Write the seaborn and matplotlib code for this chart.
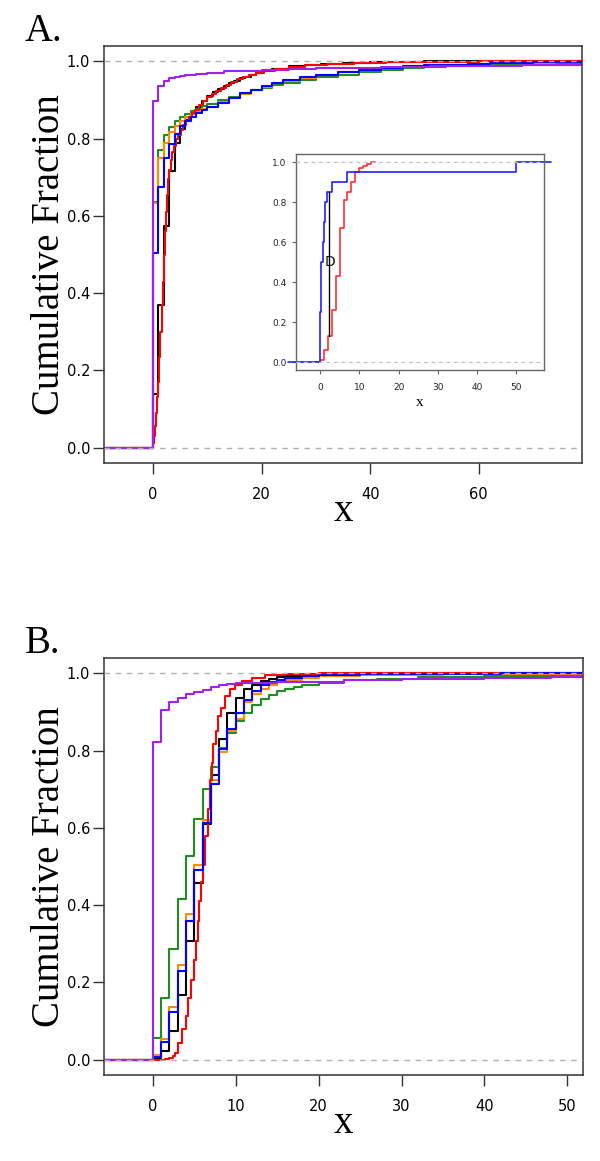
import numpy as np
import pandas as pd
import seaborn as sns
import matplotlib.pyplot as plt

# ---- Panel A: step positions and cumulative fraction after each step ----
a_black_x = [0, 1, 2, 3, 4, 5, 6, 7, 8, 9, 10, 11, 12, 13, 14, 15, 16, 17, 18, 19, 20, 22, 25, 28, 31, 35, 40, 45, 50]
a_black_y = [0.14, 0.37, 0.575, 0.715, 0.79, 0.824, 0.848, 0.867, 0.883, 0.898, 0.91, 0.92, 0.929, 0.937,
             0.944, 0.95, 0.956, 0.961, 0.966, 0.971, 0.975, 0.981, 0.987, 0.991, 0.993, 0.996, 0.998, 0.999, 1.0]

a_red_x = [0, 0.2, 0.4, 0.6, 0.8, 1.0, 1.2, 1.4, 1.6, 1.8, 2.0, 2.2, 2.4, 2.6, 2.8, 3.0, 3.3, 3.6, 3.9, 4.3,
           4.7, 5.1, 5.6, 6.1, 6.6, 7.2, 7.8, 8.5, 9.3, 10.0, 10.8, 11.6, 12.5, 13.4, 14.4, 15.4, 16.5, 17.7,
           19.0, 20.5, 22.5, 25, 28, 32, 37, 43, 50, 60]
a_red_y = [0.011, 0.03, 0.055, 0.09, 0.13, 0.17, 0.235, 0.3, 0.37, 0.43, 0.5, 0.56, 0.61, 0.655, 0.695, 0.72,
           0.745, 0.765, 0.782, 0.798, 0.81, 0.822, 0.835, 0.846, 0.856, 0.866, 0.875, 0.886, 0.898, 0.907,
           0.916, 0.924, 0.932, 0.94, 0.947, 0.954, 0.96, 0.966, 0.971, 0.976, 0.981, 0.986, 0.99, 0.993,
           0.996, 0.998, 0.999, 1.0]

a_blue_x = [0, 1, 2, 3, 4, 5, 6, 7, 8, 9, 10, 12, 14, 16, 18, 20, 22, 24, 27, 30, 34, 38, 42, 46, 50, 54,
            58, 62, 66, 70, 74]
a_blue_y = [0.503, 0.676, 0.749, 0.786, 0.813, 0.833, 0.846, 0.857, 0.866, 0.874, 0.881, 0.893, 0.905, 0.917,
            0.927, 0.936, 0.944, 0.951, 0.96, 0.966, 0.973, 0.979, 0.983, 0.987, 0.99, 0.992, 0.994, 0.995,
            0.997, 0.998, 0.999]

a_orange_x = [0, 1, 2, 3, 4, 5, 6, 7, 8, 9, 10, 12, 14, 16, 18, 20, 22, 24, 27, 30, 34, 38, 42, 46, 50, 54,
              58, 62, 66, 70, 74]
a_orange_y = [0.633, 0.749, 0.79, 0.816, 0.833, 0.846, 0.856, 0.864, 0.871, 0.877, 0.883, 0.894, 0.905, 0.916,
              0.926, 0.935, 0.943, 0.95, 0.958, 0.965, 0.972, 0.978, 0.983, 0.987, 0.99, 0.992, 0.994, 0.995,
              0.996, 0.997, 0.998]

a_green_x = [0, 1, 2, 3, 4, 5, 6, 7, 8, 9, 10, 12, 14, 16, 18, 20, 22, 24, 27, 30, 34, 38, 42, 46, 50, 54,
             58, 62, 66, 70, 74]
a_green_y = [0.637, 0.771, 0.809, 0.83, 0.846, 0.856, 0.865, 0.872, 0.878, 0.884, 0.889, 0.899, 0.908, 0.917,
             0.925, 0.932, 0.938, 0.944, 0.952, 0.959, 0.966, 0.972, 0.978, 0.983, 0.986, 0.988, 0.99, 0.991,
             0.993, 0.994, 0.995]

a_purple_x = [0, 1, 2, 3, 4, 5, 6, 8, 10, 13, 16, 20, 25, 30, 34, 38, 42, 46, 51, 56, 62, 68]
a_purple_y = [0.897, 0.936, 0.949, 0.956, 0.96, 0.963, 0.965, 0.968, 0.971, 0.974, 0.976, 0.978, 0.98, 0.982,
              0.983, 0.984, 0.985, 0.986, 0.987, 0.988, 0.989, 0.99]

# ---- Panel B ----
b_black_x = [0, 1, 2, 3, 4, 5, 6, 7, 8, 9, 10, 11, 12, 13, 14, 15, 16, 18, 20, 25]
b_black_y = [0.004, 0.022, 0.073, 0.167, 0.307, 0.458, 0.61, 0.737, 0.829, 0.898, 0.937, 0.959, 0.97, 0.98,
             0.986, 0.99, 0.993, 0.996, 0.998, 1.0]

b_blue_x = [0, 1, 2, 3, 4, 5, 6, 7, 8, 9, 10, 11, 12, 13, 14, 15, 16, 18, 20, 25, 35, 42]
b_blue_y = [0.006, 0.045, 0.123, 0.229, 0.358, 0.49, 0.613, 0.714, 0.805, 0.857, 0.898, 0.931, 0.954, 0.969,
            0.978, 0.984, 0.988, 0.993, 0.996, 0.998, 0.999, 1.0]

b_orange_x = [0, 1, 2, 3, 4, 5, 6, 7, 8, 9, 10, 11, 12, 13, 14, 15, 16, 18, 20, 25, 35, 45]
b_orange_y = [0.013, 0.052, 0.136, 0.246, 0.377, 0.505, 0.62, 0.725, 0.796, 0.85, 0.883, 0.925, 0.946, 0.961,
              0.971, 0.978, 0.983, 0.989, 0.993, 0.996, 0.998, 0.999]

b_green_x = [0, 1, 2, 3, 4, 5, 6, 7, 8, 9, 10, 11, 12, 13, 14, 15, 16, 17, 18, 20, 23, 27, 32, 40, 48]
b_green_y = [0.056, 0.16, 0.287, 0.416, 0.527, 0.623, 0.7, 0.758, 0.807, 0.846, 0.877, 0.898, 0.917, 0.933,
             0.944, 0.954, 0.961, 0.966, 0.97, 0.976, 0.982, 0.986, 0.99, 0.993, 0.995]

b_purple_x = [0, 1, 2, 3, 4, 5, 6, 7, 8, 9, 10, 12, 15, 18, 23, 30, 40, 48]
b_purple_y = [0.823, 0.905, 0.926, 0.937, 0.946, 0.952, 0.958, 0.964, 0.969, 0.972, 0.974, 0.975, 0.977,
              0.979, 0.982, 0.985, 0.988, 0.99]

b_red_x = [0, 1.0, 1.5, 2.0, 2.4, 2.7, 3.05, 3.5, 3.95, 4.25, 4.65, 5.0, 5.2, 5.4, 5.6, 5.8, 6.05, 6.3, 6.6,
           6.9, 7.1, 7.3, 7.6, 7.9, 8.2, 8.7, 9.3, 9.9, 10.7, 11.9, 13.5, 15.9, 20]
b_red_y = [0.0, 0.0, 0.002, 0.005, 0.01, 0.018, 0.043, 0.078, 0.112, 0.16, 0.207, 0.259, 0.307, 0.36, 0.41,
           0.46, 0.505, 0.58, 0.648, 0.725, 0.769, 0.816, 0.851, 0.889, 0.911, 0.941, 0.96, 0.971, 0.98,
           0.988, 0.995, 0.998, 1.0]

# ---- Inset (two samples and the KS distance D) ----
in_blue_x = [0, 0.15, 0.3, 0.34, 0.68, 0.8, 0.94, 1.1, 1.25, 1.37, 1.7, 3.1, 7.0, 50.0]
in_blue_y = [0.25, 0.35, 0.45, 0.5, 0.55, 0.6, 0.65, 0.7, 0.75, 0.8, 0.85, 0.9, 0.95, 1.0]
in_red_x = [0, 1, 2, 3, 4, 5, 6, 7, 8, 9, 10, 11, 12, 13]
in_red_y = [0.01, 0.06, 0.13, 0.26, 0.43, 0.67, 0.81, 0.85, 0.9, 0.95, 0.97, 0.98, 0.99, 1.0]
d_x, d_lo, d_hi = 2.4, 0.13, 0.85

colors = {
    "black": "#000000",
    "green": "#228B22",
    "orange": "#FF8C00",
    "red": "#FF0000",
    "blue": "#0000FF",
    "purple": "#A020F0",
}
order = ["black", "green", "orange", "red", "blue", "purple"]


def step_frame(xs, ys, name, lo=-1000, hi=1000):
    # add flat ends so the step line runs past both sides of the axes
    x = np.r_[lo, xs, hi]
    y = np.r_[0.0, ys, ys[-1]]
    return pd.DataFrame({"x": x, "y": y, "group": name})


panel_a = pd.concat([
    step_frame(a_black_x, a_black_y, "black"),
    step_frame(a_green_x, a_green_y, "green"),
    step_frame(a_orange_x, a_orange_y, "orange"),
    step_frame(a_red_x, a_red_y, "red"),
    step_frame(a_blue_x, a_blue_y, "blue"),
    step_frame(a_purple_x, a_purple_y, "purple"),
])
panel_b = pd.concat([
    step_frame(b_black_x, b_black_y, "black"),
    step_frame(b_green_x, b_green_y, "green"),
    step_frame(b_orange_x, b_orange_y, "orange"),
    step_frame(b_red_x, b_red_y, "red"),
    step_frame(b_blue_x, b_blue_y, "blue"),
    step_frame(b_purple_x, b_purple_y, "purple"),
])

sns.set_theme(style="ticks")
plt.rcParams["font.family"] = ["DejaVu Sans"]
plt.rcParams["text.color"] = "black"
SERIF = ["Liberation Serif", "DejaVu Serif"]

fig = plt.figure(figsize=(6, 11.61), dpi=100)
ax_a = fig.add_axes([104 / 600, 1 - 463 / 1161, 478 / 600, 417 / 1161])
ax_b = fig.add_axes([104 / 600, 1 - 1075 / 1161, 479 / 600, 417 / 1161])
ax_in = fig.add_axes([296 / 600, 1 - 370 / 1161, 248 / 600, 216 / 1161])


def style_main(ax, data, xlim, xticks):
    sns.lineplot(data=data, x="x", y="y", hue="group", hue_order=order, palette=colors,
                 estimator=None, sort=False, drawstyle="steps-post", lw=1.5, legend=False, ax=ax)
    for yv in (0, 1):
        ax.axhline(yv, color="#b0b0b0", lw=1, ls=(0, (4, 4)), zorder=5)
    ax.set_xlim(*xlim)
    ax.set_ylim(-0.04, 1.04)
    ax.set_xticks(xticks)
    ax.set_yticks([0, 0.2, 0.4, 0.6, 0.8, 1.0])
    ax.set_yticklabels(["0.0", "0.2", "0.4", "0.6", "0.8", "1.0"])
    for s in ax.spines.values():
        s.set_visible(True)
        s.set_color("#333333")
        s.set_linewidth(1.1)
    ax.tick_params(axis="both", direction="out", length=8, width=1, color="#333333",
                   labelsize=10.5, labelcolor="black")
    ax.tick_params(axis="x", pad=9)
    ax.tick_params(axis="y", pad=2)
    ax.set_ylabel("Cumulative Fraction", family=SERIF, fontsize=28, color="black")
    ax.yaxis.set_label_coords(-0.075, 0.5)
    ax.set_xlabel("x", family=SERIF, fontsize=28, va="top", color="black")
    ax.xaxis.set_label_coords(0.5, -0.072)


style_main(ax_a, panel_a, (-9, 79), [0, 20, 40, 60])
style_main(ax_b, panel_b, (-5.9, 51.9), [0, 10, 20, 30, 40, 50])

# inset
ax_in.set_facecolor("white")
ax_in.set_zorder(10)
inset = pd.concat([
    step_frame(in_red_x, in_red_y, "red", lo=-2.2, hi=14.1),
    step_frame(in_blue_x, in_blue_y, "blue", lo=-8.1, hi=58.8),
])
sns.lineplot(data=inset, x="x", y="y", hue="group", hue_order=["red", "blue"],
             palette={"red": "#FF3030", "blue": "#2020FF"}, estimator=None, sort=False,
             drawstyle="steps-post", lw=1.2, legend=False, ax=ax_in)
for line in ax_in.get_lines():
    line.set_clip_on(False)
for yv in (0, 1):
    ax_in.axhline(yv, color="#c0c0c0", lw=0.9, ls=(0, (3, 3)), zorder=5)
ax_in.plot([d_x, d_x], [d_lo, d_hi], color="black", lw=1.0)
ax_in.text(d_x + 0.1, 0.5, "D", fontsize=10, ha="center", va="center", color="#111111")
ax_in.set_xlim(-6.1, 57)
ax_in.set_ylim(-0.04, 1.04)
ax_in.set_xticks([0, 10, 20, 30, 40, 50])
ax_in.set_yticks([0, 0.2, 0.4, 0.6, 0.8, 1.0])
ax_in.set_yticklabels(["0.0", "0.2", "0.4", "0.6", "0.8", "1.0"])
for s in ax_in.spines.values():
    s.set_visible(True)
    s.set_color("#666666")
    s.set_linewidth(1.0)
ax_in.tick_params(axis="both", direction="out", length=3, width=0.8, color="#666666",
                  labelsize=6.5, labelcolor="#222222")
ax_in.tick_params(axis="x", pad=6)
ax_in.tick_params(axis="y", pad=4)
ax_in.set_ylabel("")
ax_in.set_xlabel("x", family=SERIF, fontsize=11, va="top", color="black")
ax_in.xaxis.set_label_coords(0.5, -0.12)

fig.text(25 / 600, 1 - 41 / 1161, "A.", family=SERIF, fontsize=28, va="baseline")
fig.text(25 / 600, 1 - 653 / 1161, "B.", family=SERIF, fontsize=28, va="baseline")

fig.savefig("out.png", dpi=100)
